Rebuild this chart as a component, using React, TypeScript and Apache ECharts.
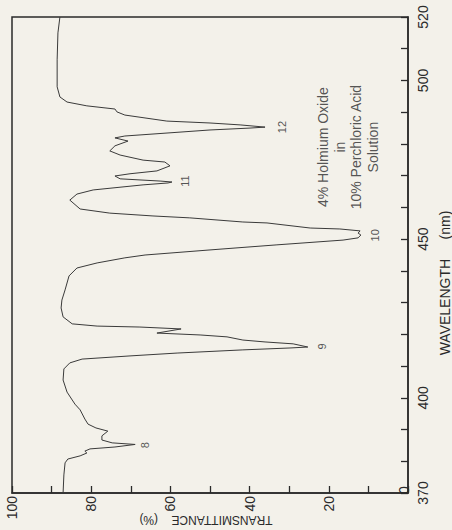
import React, { useEffect, useRef } from 'react';
import * as echarts from 'echarts';

// Spectrum trace: transmittance (%) against wavelength (nm), in scan order
const wavelength = [
  370.0, 375.7, 379.5, 380.7, 381.7, 382.6, 383.2, 383.9, 384.5, 385.3,
  385.8, 386.7, 388.0, 389.5, 390.5, 391.7, 393.3, 396.2, 398.0, 401.8,
  405.6, 409.1, 411.0, 412.2, 413.2, 414.1, 415.1, 415.7, 416.0, 417.0,
  417.6, 418.2, 419.2, 419.8, 420.4, 421.7, 422.3, 422.6, 423.3, 425.5,
  428.3, 430.8, 434.0, 438.4, 440.9, 442.5, 444.1, 445.0, 446.6, 448.2,
  449.7, 450.4, 451.3, 451.9, 452.6, 453.2, 453.5, 455.1, 455.4, 456.7,
  457.3, 458.2, 459.5, 462.3, 464.2, 465.5, 467.1, 467.7, 468.0, 468.3,
  469.0, 469.9, 470.6, 471.5, 473.1, 474.3, 474.9, 476.5, 477.8, 479.4,
  480.9, 481.9, 482.5, 483.5, 484.4, 485.0, 485.3, 486.0, 486.6, 487.2,
  489.1, 490.1, 491.0, 492.0, 493.2, 494.8, 498.0, 506.5, 515.0, 520.0,
];
const transmittance = [
  87.1, 86.9, 86.6, 85.9, 82.8, 81.1, 81.6, 80.3, 74.0, 68.9,
  74.7, 77.3, 77.3, 75.8, 78.8, 80.8, 81.6, 82.8, 84.1, 86.1,
  87.1, 86.9, 85.4, 82.3, 70.2, 58.3, 41.7, 29.8, 25.3, 29.0,
  36.1, 41.7, 45.7, 52.5, 63.4, 57.3, 67.7, 78.5, 84.8, 87.1,
  87.6, 87.4, 86.6, 85.6, 83.6, 78.5, 71.5, 66.4, 50.0, 33.1,
  16.4, 12.6, 11.9, 12.6, 12.1, 17.2, 24.7, 35.6, 41.7, 55.1,
  64.4, 75.3, 82.8, 85.4, 83.6, 79.5, 66.9, 60.6, 59.6, 62.6,
  72.7, 74.0, 70.2, 63.4, 60.1, 61.4, 66.9, 72.7, 75.3, 74.0,
  70.7, 74.0, 71.5, 60.1, 50.0, 39.9, 36.1, 42.4, 50.0, 60.9,
  71.5, 73.5, 74.0, 81.1, 86.1, 87.9, 88.6, 88.6, 88.4, 87.9,
];

// Peak numbers and where they are written
const peakNames = ['8', '9', '10', '11', '12'];
const peakLabelT = [66.3, 21.8, 8.3, 56.3, 31.7];
const peakLabelWl = [385.1, 416.2, 451.2, 468.3, 485.3];

// Tick labels
const wlTickLabels = [370, 400, 450, 500, 520];
const tTickLabels = [20, 40, 60, 80, 100];

// Note block
const noteLines = ['4% Holmium Oxide', 'in', '10% Perchloric Acid', 'Solution'];
const notePos = [15.2, 479.0];

const FONT = 'Liberation Sans';
const INK = '#2a2a2a';

export default function App() {
  const ref = useRef<HTMLDivElement>(null);
  useEffect(() => {
    document.body.style.margin = '0';
    if (!ref.current) return;
    const chart = echarts.init(ref.current, undefined, { renderer: 'svg' });
    const option: any = {
      animation: false,
      backgroundColor: '#f3f1ea',
      grid: {
        left: 12, right: 44, top: 17, bottom: 37,
        show: true, borderColor: INK, borderWidth: 1.5,
        backgroundColor: 'transparent',
        containLabel: false, outerBoundsMode: 'none',
      },
      xAxis: {
        type: 'value', min: 0, max: 100, interval: 10, inverse: true,
        position: 'bottom',
        name: 'TRANSMITTANCE    (%)', nameLocation: 'middle', nameGap: 21, nameRotate: 180,
        nameMoveOverlap: false,
        nameTextStyle: { fontFamily: FONT, fontSize: 12, color: INK, padding: [0, 0, 0, 8] },
        axisLine: { show: true, lineStyle: { color: INK, width: 1.5 } },
        axisTick: { show: true, inside: true, length: 7, lineStyle: { color: INK, width: 1.3 } },
        splitLine: { show: false },
        axisLabel: {
          rotate: 90, margin: 3, fontFamily: FONT, fontSize: 14, color: INK,
          formatter: (v: number) => (tTickLabels.includes(v) ? String(v) : ''),
        },
      },
      yAxis: {
        type: 'value', min: 370, max: 520, interval: 10,
        position: 'right',
        name: 'WAVELENGTH     (nm)', nameLocation: 'middle', nameGap: 30, nameRotate: 90,
        nameMoveOverlap: false,
        nameTextStyle: { fontFamily: FONT, fontSize: 14, color: INK, padding: [0, 56, 0, 0] },
        axisLine: { show: true, lineStyle: { color: INK, width: 1.5 } },
        axisTick: { show: true, inside: true, length: 7, lineStyle: { color: INK, width: 1.3 } },
        splitLine: { show: false },
        axisLabel: {
          rotate: 90, margin: 8, fontFamily: FONT, fontSize: 14, color: INK,
          formatter: (v: number) => (wlTickLabels.includes(v) ? String(v) : ''),
        },
      },
      graphic: [
        {
          type: 'text', x: 404, y: 490, rotation: Math.PI / 2,
          style: { text: '0', font: `14px "${FONT}"`, fill: INK, align: 'center', verticalAlign: 'middle' },
        },
      ],
      series: [
        {
          type: 'line',
          data: transmittance.map((t, i) => [t, wavelength[i]]),
          showSymbol: false,
          smooth: false,
          lineStyle: { color: '#3a3a3a', width: 1 },
          silent: true,
        },
        {
          type: 'scatter',
          data: peakNames.map((n, i) => [peakLabelT[i], peakLabelWl[i], n]),
          symbolSize: 1,
          itemStyle: { color: 'transparent' },
          label: {
            show: true, position: 'inside', rotate: 90,
            fontFamily: FONT, fontSize: 11, color: INK,
            formatter: (p: any) => p.data[2],
          },
          silent: true,
        },
        {
          type: 'scatter',
          data: [[notePos[0], notePos[1], noteLines.join('\n')]],
          symbolSize: 1,
          itemStyle: { color: 'transparent' },
          label: {
            show: true, position: 'inside', rotate: 90, align: 'center',
            fontFamily: FONT, fontSize: 14, lineHeight: 16.5, color: INK,
            formatter: (p: any) => p.data[2],
          },
          silent: true,
        },
      ],
    };
    chart.setOption(option);
    return () => chart.dispose();
  }, []);
  return <div ref={ref} style={{ width: 452, height: 530 }} />;
}
